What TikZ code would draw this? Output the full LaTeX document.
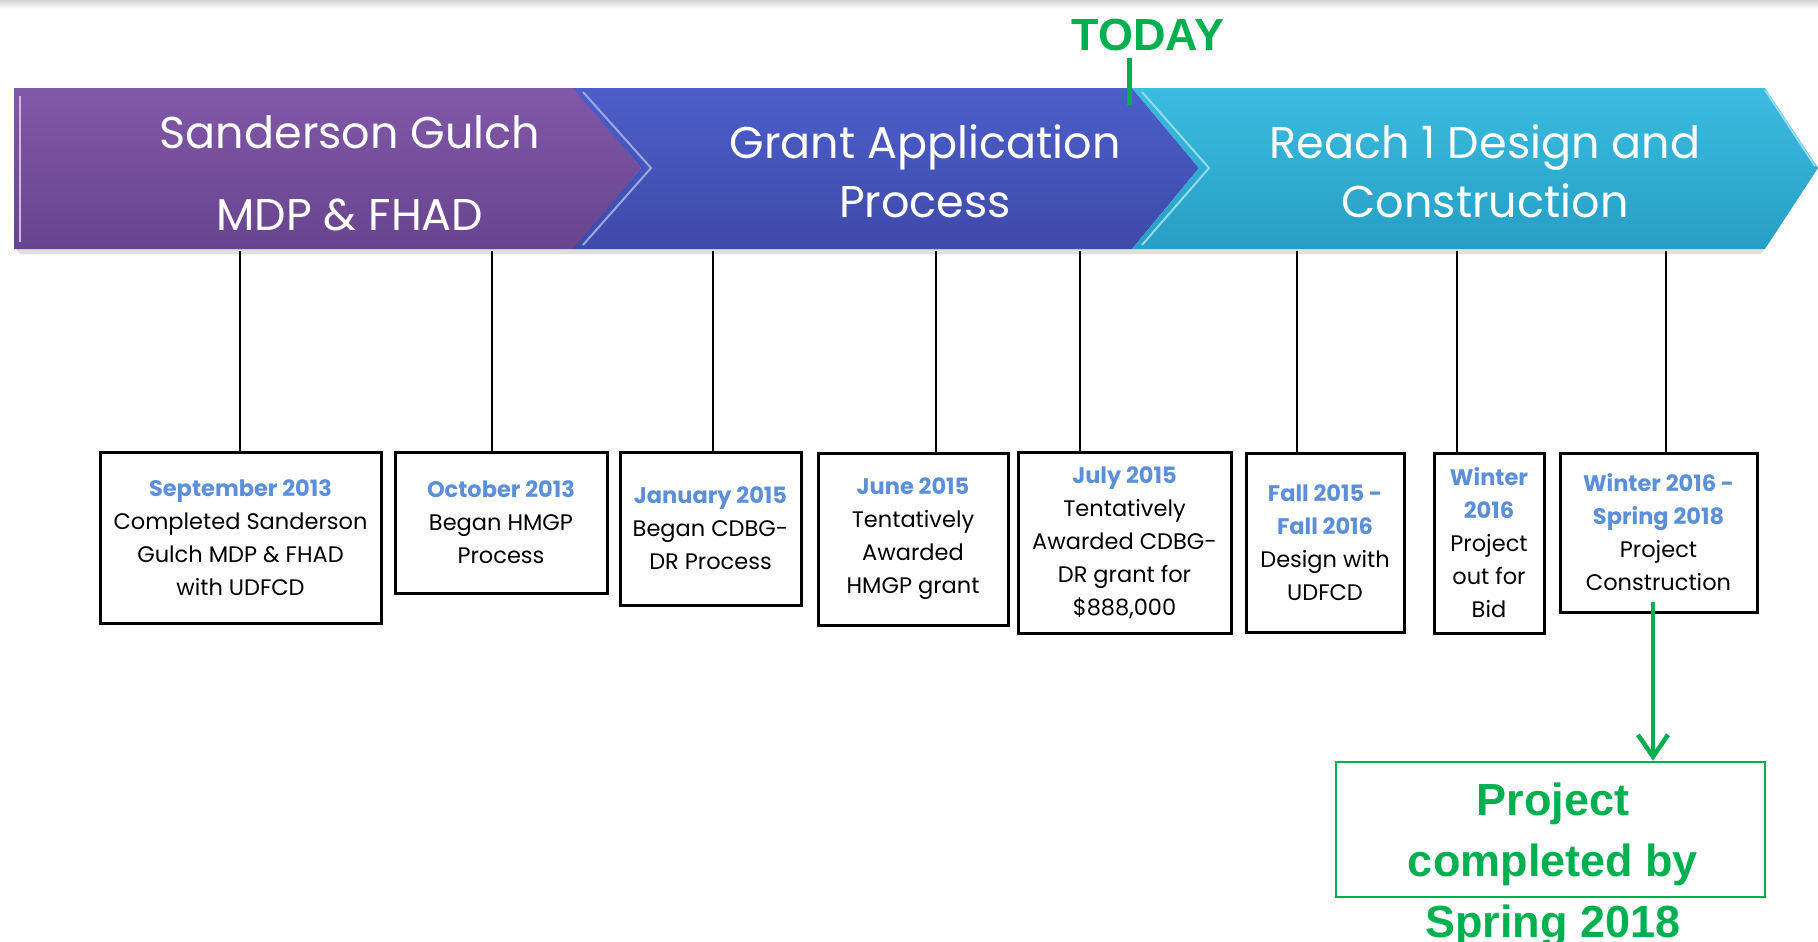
\documentclass[tikz,border=0pt]{standalone}
\usepackage{fontspec}
\setmainfont{Poppins}
\newfontfamily\arialf{Liberation Sans}
\usetikzlibrary{arrows.meta}
\definecolor{tgreen}{HTML}{00B050}
\definecolor{datecol}{HTML}{5B8FD9}
\definecolor{purtop}{RGB}{128,88,168}
\definecolor{purbot}{RGB}{104,68,142}
\definecolor{blutop}{RGB}{76,94,202}
\definecolor{blubot}{RGB}{62,74,168}
\definecolor{cyatop}{RGB}{58,188,224}
\definecolor{cyabot}{RGB}{40,158,196}
\newcommand{\dt}[1]{{\bfseries\color{datecol}#1}}
\begin{document}
\begin{tikzpicture}[x=1pt,y=-1pt,
  bandtext/.style={text=white, font=\fontsize{44.5}{60}\selectfont, anchor=base, inner sep=0pt},
  evbox/.style={draw=black, line width=3pt, fill=white, align=center,
    font=\fontsize{22.5}{33}\selectfont, inner sep=0pt},
  stem/.style={line width=2.6pt, black},
  greentext/.style={text=tgreen, font=\arialf\bfseries\fontsize{45}{61}\selectfont, align=center},
  garrow/.style={draw=tgreen, line width=4.5pt, -{Straight Barb[length=22pt,width=30pt,line width=4.5pt]}}
]
\useasboundingbox (0,0) rectangle (1818,942);
\fill[white] (0,0) rectangle (1818,942);
\shade[top color=gray!35, bottom color=white] (0,0) rectangle (1818,9);

% band shadow
\fill[gray!25] (16,249) -- (1765,249) -- (1760,254) -- (20,254) -- cycle;

% chevrons
\shade[top color=purtop, bottom color=purbot] (14,88) -- (574,88) -- (641,168) -- (574,249) -- (14,249) -- cycle;
\shade[top color=blutop, bottom color=blubot] (573,88) -- (1132,88) -- (1199,168) -- (1132,249) -- (573,249) -- (641,168) -- cycle;
\shade[top color=cyatop, bottom color=cyabot] (1132,88) -- (1765,88) -- (1818,168) -- (1765,249) -- (1132,249) -- (1199,168) -- cycle;
% bevel highlights
\draw[line width=2pt, purtop!40!white] (20,96) -- (20,242);
\draw[line width=2pt, blutop!55!white] (583,92) -- (651,168) -- (583,245);
\draw[line width=2pt, cyatop!55!white] (1142,92) -- (1209,168) -- (1142,245);
\draw[line width=2pt, cyatop!55!white] (1765,90) -- (1815,166);

% band texts
\node[bandtext] (p1) at (350,148) {Sanderson Gulch};
\node[bandtext] (p2) at (350,230) {MDP \& FHAD};
\node[bandtext] (g1) at (925,158) {Grant Application};
\node[bandtext] (g2) at (925,217) {Process};
\node[bandtext] (r1) at (1485,158) {Reach 1 Design and};
\node[bandtext] (r2) at (1485,217) {Construction};

% TODAY
\node[text=tgreen, font=\arialf\bfseries\fontsize{45}{50}\selectfont, inner sep=0pt] (today) at (1148,35) {TODAY};
\coordinate (tk1) at (1129,58);
\coordinate (tk2) at (1129,105);
\draw[tgreen, line width=5pt] (tk1) -- (tk2);

% event boxes
\node[evbox, minimum width=281pt, minimum height=171pt] (b1) at (240.5,537.5)
  {\dt{September 2013}\\Completed Sanderson\\Gulch MDP \& FHAD\\with UDFCD};
\node[evbox, minimum width=212pt, minimum height=141pt] (b2) at (501,522.5)
  {\dt{October 2013}\\Began HMGP\\Process};
\node[evbox, minimum width=181pt, minimum height=153pt] (b3) at (710.5,528.5)
  {\dt{January 2015}\\Began CDBG-\\DR Process};
\node[evbox, minimum width=190pt, minimum height=172pt] (b4) at (913,539)
  {\dt{June 2015}\\Tentatively\\Awarded\\HMGP grant};
\node[evbox, minimum width=213pt, minimum height=181pt] (b5) at (1124.5,542.5)
  {\dt{July 2015}\\Tentatively\\Awarded CDBG-\\DR grant for\\\$888,000};
\node[evbox, minimum width=158pt, minimum height=179pt] (b6) at (1325,542.5)
  {\dt{Fall 2015 -}\\\dt{Fall 2016}\\Design with\\UDFCD};
\node[evbox, minimum width=110pt, minimum height=180pt] (b7) at (1489,543)
  {\dt{Winter}\\\dt{2016}\\Project\\out for\\Bid};
\node[evbox, minimum width=197pt, minimum height=159pt] (b8) at (1658.5,532.5)
  {\dt{Winter 2016 -}\\\dt{Spring 2018}\\Project\\Construction};

% stems
\coordinate (s1) at (240,251);
\coordinate (s2) at (492,251);
\coordinate (s3) at (713,251);
\coordinate (s4) at (936,251);
\coordinate (s5) at (1080,251);
\coordinate (s6) at (1297,251);
\coordinate (s7) at (1457,251);
\coordinate (s8) at (1666,251);
\draw[stem] (s1) -- (s1 |- b1.north);
\draw[stem] (s2) -- (s2 |- b2.north);
\draw[stem] (s3) -- (s3 |- b3.north);
\draw[stem] (s4) -- (s4 |- b4.north);
\draw[stem] (s5) -- (s5 |- b5.north);
\draw[stem] (s6) -- (s6 |- b6.north);
\draw[stem] (s7) -- (s7 |- b7.north);
\draw[stem] (s8) -- (s8 |- b8.north);

% green result box
\node[draw=tgreen, line width=2.5pt, minimum width=429pt, minimum height=135pt, inner sep=0pt] (gbox) at (1550.5,829.5) {};
\node[greentext] (gtext) at (1553,865) {Project\\completed by\\Spring 2018};
\coordinate (astart) at (1653,602);
\draw[garrow] (astart) -- (astart |- gbox.north);
\end{tikzpicture}
\end{document}
